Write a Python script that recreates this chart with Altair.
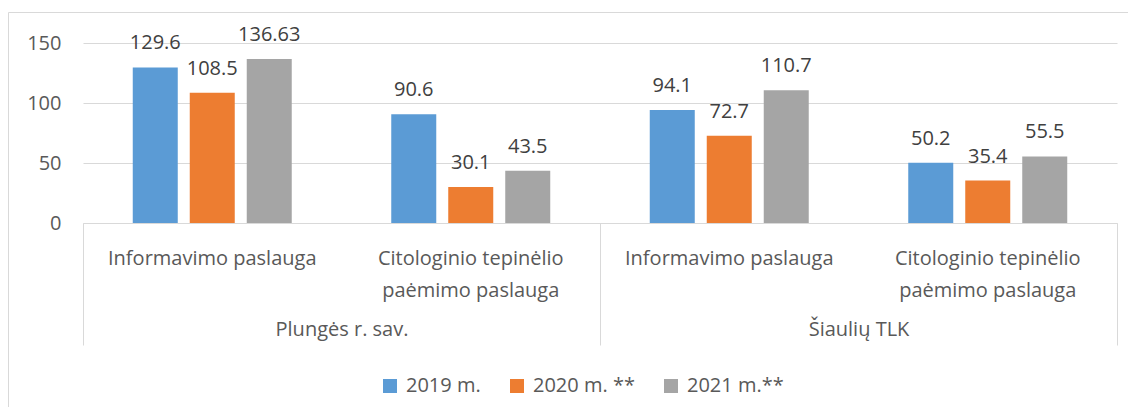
import altair as alt
import pandas as pd

# ---- data ----
group_names = ["Plungės r. sav.", "Šiaulių TLK"]
row_groups = ["Plungės r. sav.", "Plungės r. sav.", "Šiaulių TLK", "Šiaulių TLK"]
row_categories = [
    "Informavimo paslauga",
    "Citologinio tepinėlio\npaėmimo paslauga",
    "Informavimo paslauga",
    "Citologinio tepinėlio\npaėmimo paslauga",
]
years = ["2019 m.", "2020 m. **", "2021 m.**"]
values_2019 = [129.6, 90.6, 94.1, 50.2]
values_2020 = [108.5, 30.1, 72.7, 35.4]
values_2021 = [136.63, 43.5, 110.7, 55.5]
colors = ["#5B9BD5", "#ED7D31", "#A5A5A5"]
y_ticks = [0, 50, 100, 150]

FONT = "Open Sans"
AXIS_TXT = "#595959"
LABEL_TXT = "#404040"
GRID = "#D9D9D9"

keys = [f"{g}|{c}" for g, c in zip(row_groups, row_categories)]

rows = []
for year, vals in zip(years, [values_2019, values_2020, values_2021]):
    for k, v in zip(keys, vals):
        rows.append({"key": k, "year": year, "value": v, "label": str(v)})
df = pd.DataFrame(rows)

cat_df = pd.DataFrame({"key": keys, "cat": row_categories})
grp_df = pd.DataFrame({"group": group_names})

x_key = alt.X("key:N", scale=alt.Scale(domain=keys, paddingInner=0, paddingOuter=0), axis=None)
x_off = alt.XOffset("year:N", scale=alt.Scale(domain=years, paddingInner=0.2105, paddingOuter=0.873))
y_val = alt.Y(
    "value:Q",
    scale=alt.Scale(domain=[0, 150], nice=False),
    axis=alt.Axis(
        values=y_ticks, title=None, domain=False, ticks=False, grid=True,
        gridColor=GRID, gridWidth=1, labelFont=FONT, labelFontSize=20,
        labelColor=AXIS_TXT, labelPadding=22,
    ),
)

bars = alt.Chart(df).mark_bar(size=45).encode(
    x=x_key,
    xOffset=x_off,
    y=y_val,
    color=alt.Color(
        "year:N",
        scale=alt.Scale(domain=years, range=colors),
        legend=alt.Legend(
            title=None, orient="none", direction="horizontal",
            legendX=297, legendY=333, symbolType="square", symbolSize=196,
            symbolStrokeWidth=0, labelFont=FONT, labelFontSize=20,
            labelColor=AXIS_TXT, labelOffset=6, columnPadding=26,
        ),
    ),
)

value_labels = alt.Chart(df).mark_text(
    baseline="alphabetic", dy=-18, font=FONT, fontSize=20, color=LABEL_TXT
).encode(x=x_key, xOffset=x_off, y="value:Q", text="label:N")

cat_labels = alt.Chart(cat_df).mark_text(
    baseline="alphabetic", align="center", lineBreak="\n", lineHeight=32.5,
    font=FONT, fontSize=20, color=AXIS_TXT
).encode(x=x_key, y=alt.value(221.5), text="cat:N")

frame_left = alt.Chart(alt.Data(values=[{}])).mark_rule(color=GRID, strokeWidth=1).encode(
    x=alt.value(-74.5), y=alt.value(-30.5), y2=alt.value(372)
)
frame_top = alt.Chart(alt.Data(values=[{}])).mark_rule(color=GRID, strokeWidth=1).encode(
    x=alt.value(-74.5), x2=alt.value(1045), y=alt.value(-30.5)
)

main = alt.layer(frame_left, frame_top, bars, value_labels, cat_labels)

group_axis = alt.Chart(grp_df).mark_point(opacity=0).encode(
    x=alt.X(
        "group:N",
        scale=alt.Scale(domain=group_names, paddingInner=0, paddingOuter=0),
        axis=alt.Axis(
            orient="bottom", title=None, domain=True, domainColor=GRID,
            ticks=True, tickBand="extent", tickSize=122, tickColor=GRID,
            labelFont=FONT, labelFontSize=20, labelColor=AXIS_TXT,
            labelPadding=-10, labelBaseline="alphabetic", labelAngle=0,
            labelFlush=False, labelOverlap=False, grid=False,
        ),
    )
)

chart = (
    alt.layer(main, group_axis)
    .resolve_scale(x="independent")
    .properties(
        width=1034,
        height=180,
        padding={"left": 75, "top": 35, "right": 11, "bottom": 184},
        autosize=alt.AutoSizeParams(type="none"),
        background="white",
    )
    .configure_view(stroke=None)
)

chart.save("out.html", embed_options={"renderer": "svg", "actions": False})
